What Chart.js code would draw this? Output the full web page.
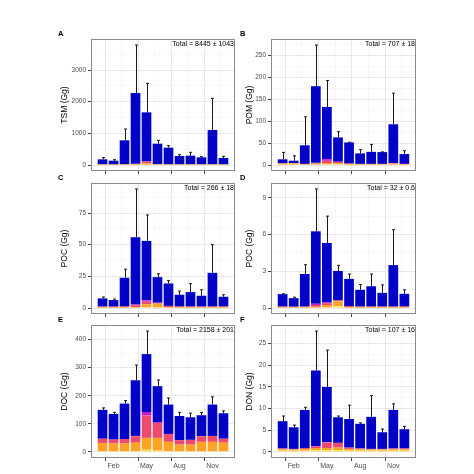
<!DOCTYPE html>
<html>
<head>
<meta charset="utf-8">
<script src="https://cdn.jsdelivr.net/npm/chart.js@4.4.1/dist/chart.umd.min.js"></script>
<style>
  body { margin: 0; background: #fff; }
  #wrap { position: relative; width: 474px; height: 474px; overflow: hidden; font-family: 'Liberation Sans', Arial, sans-serif; }
  canvas { position: absolute; }
  .tag { position: absolute; font-weight: bold; font-size: 7.5px; line-height: 8px; color: #000; }
  .total { position: absolute; font-size: 7px; line-height: 8px; color: #000; text-align: right; white-space: nowrap; }
</style>
</head>
<body>
<div id="wrap"></div>
<script>
// months 1..12, only some get a label
const months = [1, 2, 3, 4, 5, 6, 7, 8, 9, 10, 11, 12];
const monthLabels = { 2: 'Feb', 5: 'May', 8: 'Aug', 11: 'Nov' };

// A - TSM
const tsmYellow  = [2, 2, 2, 5, 10, 3, 2, 2, 2, 2, 2, 2];
const tsmOrange  = [5, 4, 5, 10, 40, 8, 5, 5, 5, 5, 5, 5];
const tsmPink    = [10, 8, 12, 20, 50, 15, 10, 10, 10, 8, 12, 8];
const tsmMagenta = [0, 0, 0, 3, 20, 2, 0, 0, 0, 0, 0, 0];
const tsmBlue    = [162, 123, 760, 2236, 1543, 646, 530, 267, 278, 227, 1086, 206];
const tsmErr     = [232, 168, 1137, 3790, 2579, 779, 610, 326, 400, 263, 2105, 274];

// B - POM
const pomYellow  = [1, 1, 0.5, 1, 1.5, 1.5, 0.5, 0.5, 0.5, 0.5, 1, 0.5];
const pomOrange  = [2, 2.5, 1, 2, 3, 3, 1.5, 1, 1, 1, 2, 1];
const pomPink    = [1, 1, 1, 1.5, 5, 2.5, 1.5, 1, 1, 1, 1.5, 1];
const pomMagenta = [0, 0, 0, 0.5, 4, 0.5, 0, 0, 0, 0, 0, 0];
const pomBlue    = [8.9, 5.3, 42.5, 175, 119.1, 55.5, 48, 24, 27.5, 27, 88.5, 22.5];
const pomErr     = [28.8, 21, 110, 274, 193, 76, 52, 35, 47, 30, 164, 32.6];

// C - POC
const pocYellow  = [0.1, 0.1, 0.1, 0.3, 0.5, 0.5, 0.2, 0.1, 0.1, 0.1, 0.1, 0.1];
const pocOrange  = [0.3, 0.3, 0.3, 0.5, 2.5, 3, 0.5, 0.3, 0.3, 0.3, 0.3, 0.3];
const pocPink    = [0.8, 0.7, 0.8, 1.5, 2, 0.5, 1, 0.8, 0.8, 0.8, 0.8, 0.8];
const pocMagenta = [0, 0, 0, 0.5, 1, 0.2, 0, 0, 0, 0, 0, 0];
const pocBlue    = [6.4, 5.2, 22.7, 53.1, 47, 20.2, 17.7, 9.3, 11.4, 8.5, 26.6, 7.7];
const pocErr     = [8.7, 7.1, 30.7, 94, 73.5, 27, 21.8, 13.4, 19.2, 14.4, 50, 10.5];

// D - second POC panel (small values)
const ponYellow  = [0.01, 0.01, 0.01, 0.03, 0.05, 0.15, 0.02, 0.01, 0.01, 0.01, 0.01, 0.01];
const ponOrange  = [0.03, 0.03, 0.03, 0.07, 0.2, 0.4, 0.05, 0.03, 0.03, 0.03, 0.03, 0.03];
const ponPink    = [0.08, 0.07, 0.08, 0.15, 0.15, 0.07, 0.1, 0.08, 0.08, 0.08, 0.08, 0.08];
const ponMagenta = [0, 0, 0, 0.1, 0.05, 0, 0, 0, 0, 0, 0, 0];
const ponBlue    = [1.02, 0.70, 2.66, 5.92, 4.87, 2.41, 2.21, 1.37, 1.66, 1.12, 3.39, 1.04];
const ponErr     = [1.16, 0.89, 3.54, 9.73, 7.51, 3.49, 2.78, 1.92, 2.78, 1.89, 6.4, 1.49];

// E - DOC
const docYellow  = [3, 3, 3, 3, 8, 5, 3, 3, 3, 3, 3, 3];
const docOrange  = [29, 27, 27, 30, 42, 45, 33, 23, 23, 33, 33, 30];
const docPink    = [15, 14, 16, 23, 80, 53, 28, 16, 17, 20, 21, 14];
const docMagenta = [0, 0, 0, 1, 12, 3, 0, 0, 0, 0, 0, 0];
const docBlue    = [102.6, 91.3, 126, 198, 206, 128, 104.5, 86, 80.4, 74.6, 111.5, 90.7];
const docErr     = [156.7, 141, 183, 309, 430, 256, 192, 141, 138, 140, 196, 146];

// F - DON
const donYellow  = [0.3, 0.3, 0.3, 0.4, 0.4, 0.4, 0.3, 0.3, 0.3, 0.3, 0.3, 0.3];
const donOrange  = [0.3, 0.25, 0.35, 0.5, 0.5, 0.6, 0.4, 0.3, 0.25, 0.25, 0.3, 0.3];
const donPink    = [0.2, 0.15, 0.25, 0.4, 1.3, 1.1, 0.3, 0.2, 0.15, 0.15, 0.2, 0.2];
const donMagenta = [0, 0, 0, 0, 0.1, 0, 0, 0, 0, 0, 0, 0];
const donBlue    = [6.3, 5.0, 8.8, 17.5, 12.7, 5.9, 6.6, 5.7, 7.4, 3.85, 8.9, 4.45];
const donErr     = [8.3, 6.2, 10.3, 27.9, 23.5, 8.3, 10.8, 6.7, 13, 5.3, 11.1, 5.9];

const layerColors = ['#FFE14A', '#FFA326', '#EE4A6E', '#C21BC9', '#0303C8'];

const panels = [
  { tag: 'A', title: 'TSM (Gg)', total: 'Total = 8445 ± 1043', step: 1000, col: 0, row: 0,
    layers: [tsmYellow, tsmOrange, tsmPink, tsmMagenta, tsmBlue], err: tsmErr },
  { tag: 'B', title: 'POM (Gg)', total: 'Total = 707 ± 18', step: 50, col: 1, row: 0,
    layers: [pomYellow, pomOrange, pomPink, pomMagenta, pomBlue], err: pomErr },
  { tag: 'C', title: 'POC (Gg)', total: 'Total = 266 ± 18', step: 25, col: 0, row: 1,
    layers: [pocYellow, pocOrange, pocPink, pocMagenta, pocBlue], err: pocErr },
  { tag: 'D', title: 'POC (Gg)', total: 'Total = 32 ± 0.6', step: 3, col: 1, row: 1,
    layers: [ponYellow, ponOrange, ponPink, ponMagenta, ponBlue], err: ponErr },
  { tag: 'E', title: 'DOC (Gg)', total: 'Total = 2158 ± 201', step: 100, col: 0, row: 2,
    layers: [docYellow, docOrange, docPink, docMagenta, docBlue], err: docErr },
  { tag: 'F', title: 'DON (Gg)', total: 'Total = 107 ± 16', step: 5, col: 1, row: 2,
    layers: [donYellow, donOrange, donPink, donMagenta, donBlue], err: donErr },
];

// plot area boxes (pixels)
const colX = [[91, 235], [271, 416]];
const rowY = [[39, 171], [183, 314], [325, 458]];
const yAxisW = [31, 26];
const tagX = [58, 240];

// error bars on top of the stack + panel frame
const errorBars = {
  id: 'errorBars',
  afterDatasetsDraw(chart, args, opts) {
    const meta = chart.getDatasetMeta(chart.data.datasets.length - 1);
    const y = chart.scales.y;
    const c = chart.ctx;
    c.save();
    c.strokeStyle = '#1a1a1a';
    c.lineWidth = 1;
    meta.data.forEach((bar, i) => {
      const top = y.getPixelForValue(opts.values[i]);
      const x = Math.round(bar.x) + 0.5;
      c.beginPath();
      c.moveTo(x, bar.y);
      c.lineTo(x, top);
      c.moveTo(x - 1.5, top);
      c.lineTo(x + 1.5, top);
      c.stroke();
    });
    c.restore();
  },
  afterDraw(chart) {
    const a = chart.chartArea;
    const c = chart.ctx;
    c.save();
    c.strokeStyle = '#8a8a8a';
    c.lineWidth = 1;
    c.strokeRect(a.left + 0.5, a.top + 0.5, a.right - a.left - 1, a.bottom - a.top - 1);
    c.restore();
  }
};

const wrap = document.getElementById('wrap');
const font = "'Liberation Sans', Arial, sans-serif";

panels.forEach(p => {
  const [aL, aR] = colX[p.col];
  const [aT, aB] = rowY[p.row];
  const yw = yAxisW[p.col];
  const bottomRow = p.row === 2;
  const xh = bottomRow ? 16 : 5;
  const padL = 4, padR = 6, padT = 6, padB = 2;

  const canvas = document.createElement('canvas');
  const w = aR - aL + yw + padL + padR;
  const h = aB - aT + padT + xh + padB;
  canvas.width = w;
  canvas.height = h;
  canvas.style.left = (aL - yw - padL) + 'px';
  canvas.style.top = (aT - padT) + 'px';
  canvas.style.width = w + 'px';
  canvas.style.height = h + 'px';
  wrap.appendChild(canvas);

  const tag = document.createElement('div');
  tag.className = 'tag';
  tag.textContent = p.tag;
  tag.style.left = tagX[p.col] + 'px';
  tag.style.top = (aT - 9) + 'px';
  wrap.appendChild(tag);

  const tot = document.createElement('div');
  tot.className = 'total';
  tot.textContent = p.total;
  tot.style.right = (474 - aR + 1) + 'px';
  tot.style.top = (aT + 1) + 'px';
  wrap.appendChild(tot);

  const yMax = Math.max(...p.err) * 1.05;
  const yMin = -Math.max(...p.err) * 0.05;
  const step = p.step;

  new Chart(canvas, {
    type: 'bar',
    data: {
      datasets: p.layers.map((vals, k) => ({
        data: months.map((m, i) => ({ x: m, y: vals[i] })),
        backgroundColor: layerColors[k],
        borderWidth: 0,
        barPercentage: 0.88,
        categoryPercentage: 1
      }))
    },
    options: {
      responsive: false,
      animation: false,
      devicePixelRatio: 1,
      layout: { padding: { left: padL, right: padR, top: padT, bottom: padB } },
      plugins: {
        legend: { display: false },
        tooltip: { enabled: false },
        errorBars: { values: p.err }
      },
      scales: {
        x: {
          type: 'linear',
          stacked: true,
          offset: false,
          min: -0.05,
          max: 13.05,
          afterBuildTicks: s => { s.ticks = [0.5, 2, 3.5, 5, 6.5, 8, 9.5, 11, 12.5].map(v => ({ value: v })); },
          afterFit: s => { s.height = xh; },
          border: { display: false },
          grid: {
            color: ctx => (monthLabels[ctx.tick && ctx.tick.value] ? '#E8E8E8' : '#F2F2F2'),
            lineWidth: ctx => (monthLabels[ctx.tick && ctx.tick.value] ? 1 : 0.6),
            tickColor: ctx => (monthLabels[ctx.tick && ctx.tick.value] ? '#444' : 'rgba(0,0,0,0)'),
            tickLength: 3
          },
          ticks: {
            autoSkip: false,
            maxRotation: 0,
            padding: 1,
            color: '#4D4D4D',
            font: { family: font, size: 7 },
            callback: v => (bottomRow ? (monthLabels[v] || '') : '')
          }
        },
        y: {
          stacked: true,
          min: yMin,
          max: yMax,
          afterBuildTicks: s => {
            const t = [];
            for (let v = 0; v <= yMax + 1e-9; v += step / 2) t.push({ value: Math.round(v * 1000) / 1000 });
            s.ticks = t;
          },
          afterFit: s => { s.width = yw; },
          border: { display: false },
          grid: {
            color: ctx => (Math.abs(ctx.tick.value / step - Math.round(ctx.tick.value / step)) < 1e-6 ? '#E8E8E8' : '#F2F2F2'),
            lineWidth: ctx => (Math.abs(ctx.tick.value / step - Math.round(ctx.tick.value / step)) < 1e-6 ? 1 : 0.6),
            tickColor: ctx => (Math.abs(ctx.tick.value / step - Math.round(ctx.tick.value / step)) < 1e-6 ? '#444' : 'rgba(0,0,0,0)'),
            tickLength: 3
          },
          ticks: {
            padding: 2,
            color: '#4D4D4D',
            font: { family: font, size: 6.5 },
            callback: v => (Math.abs(v / step - Math.round(v / step)) < 1e-6 ? String(v) : '')
          },
          title: {
            display: true,
            text: p.title,
            color: '#000',
            padding: 0,
            font: { family: font, size: 8.5 }
          }
        }
      }
    },
    plugins: [errorBars]
  });
});
</script>
</body>
</html>
